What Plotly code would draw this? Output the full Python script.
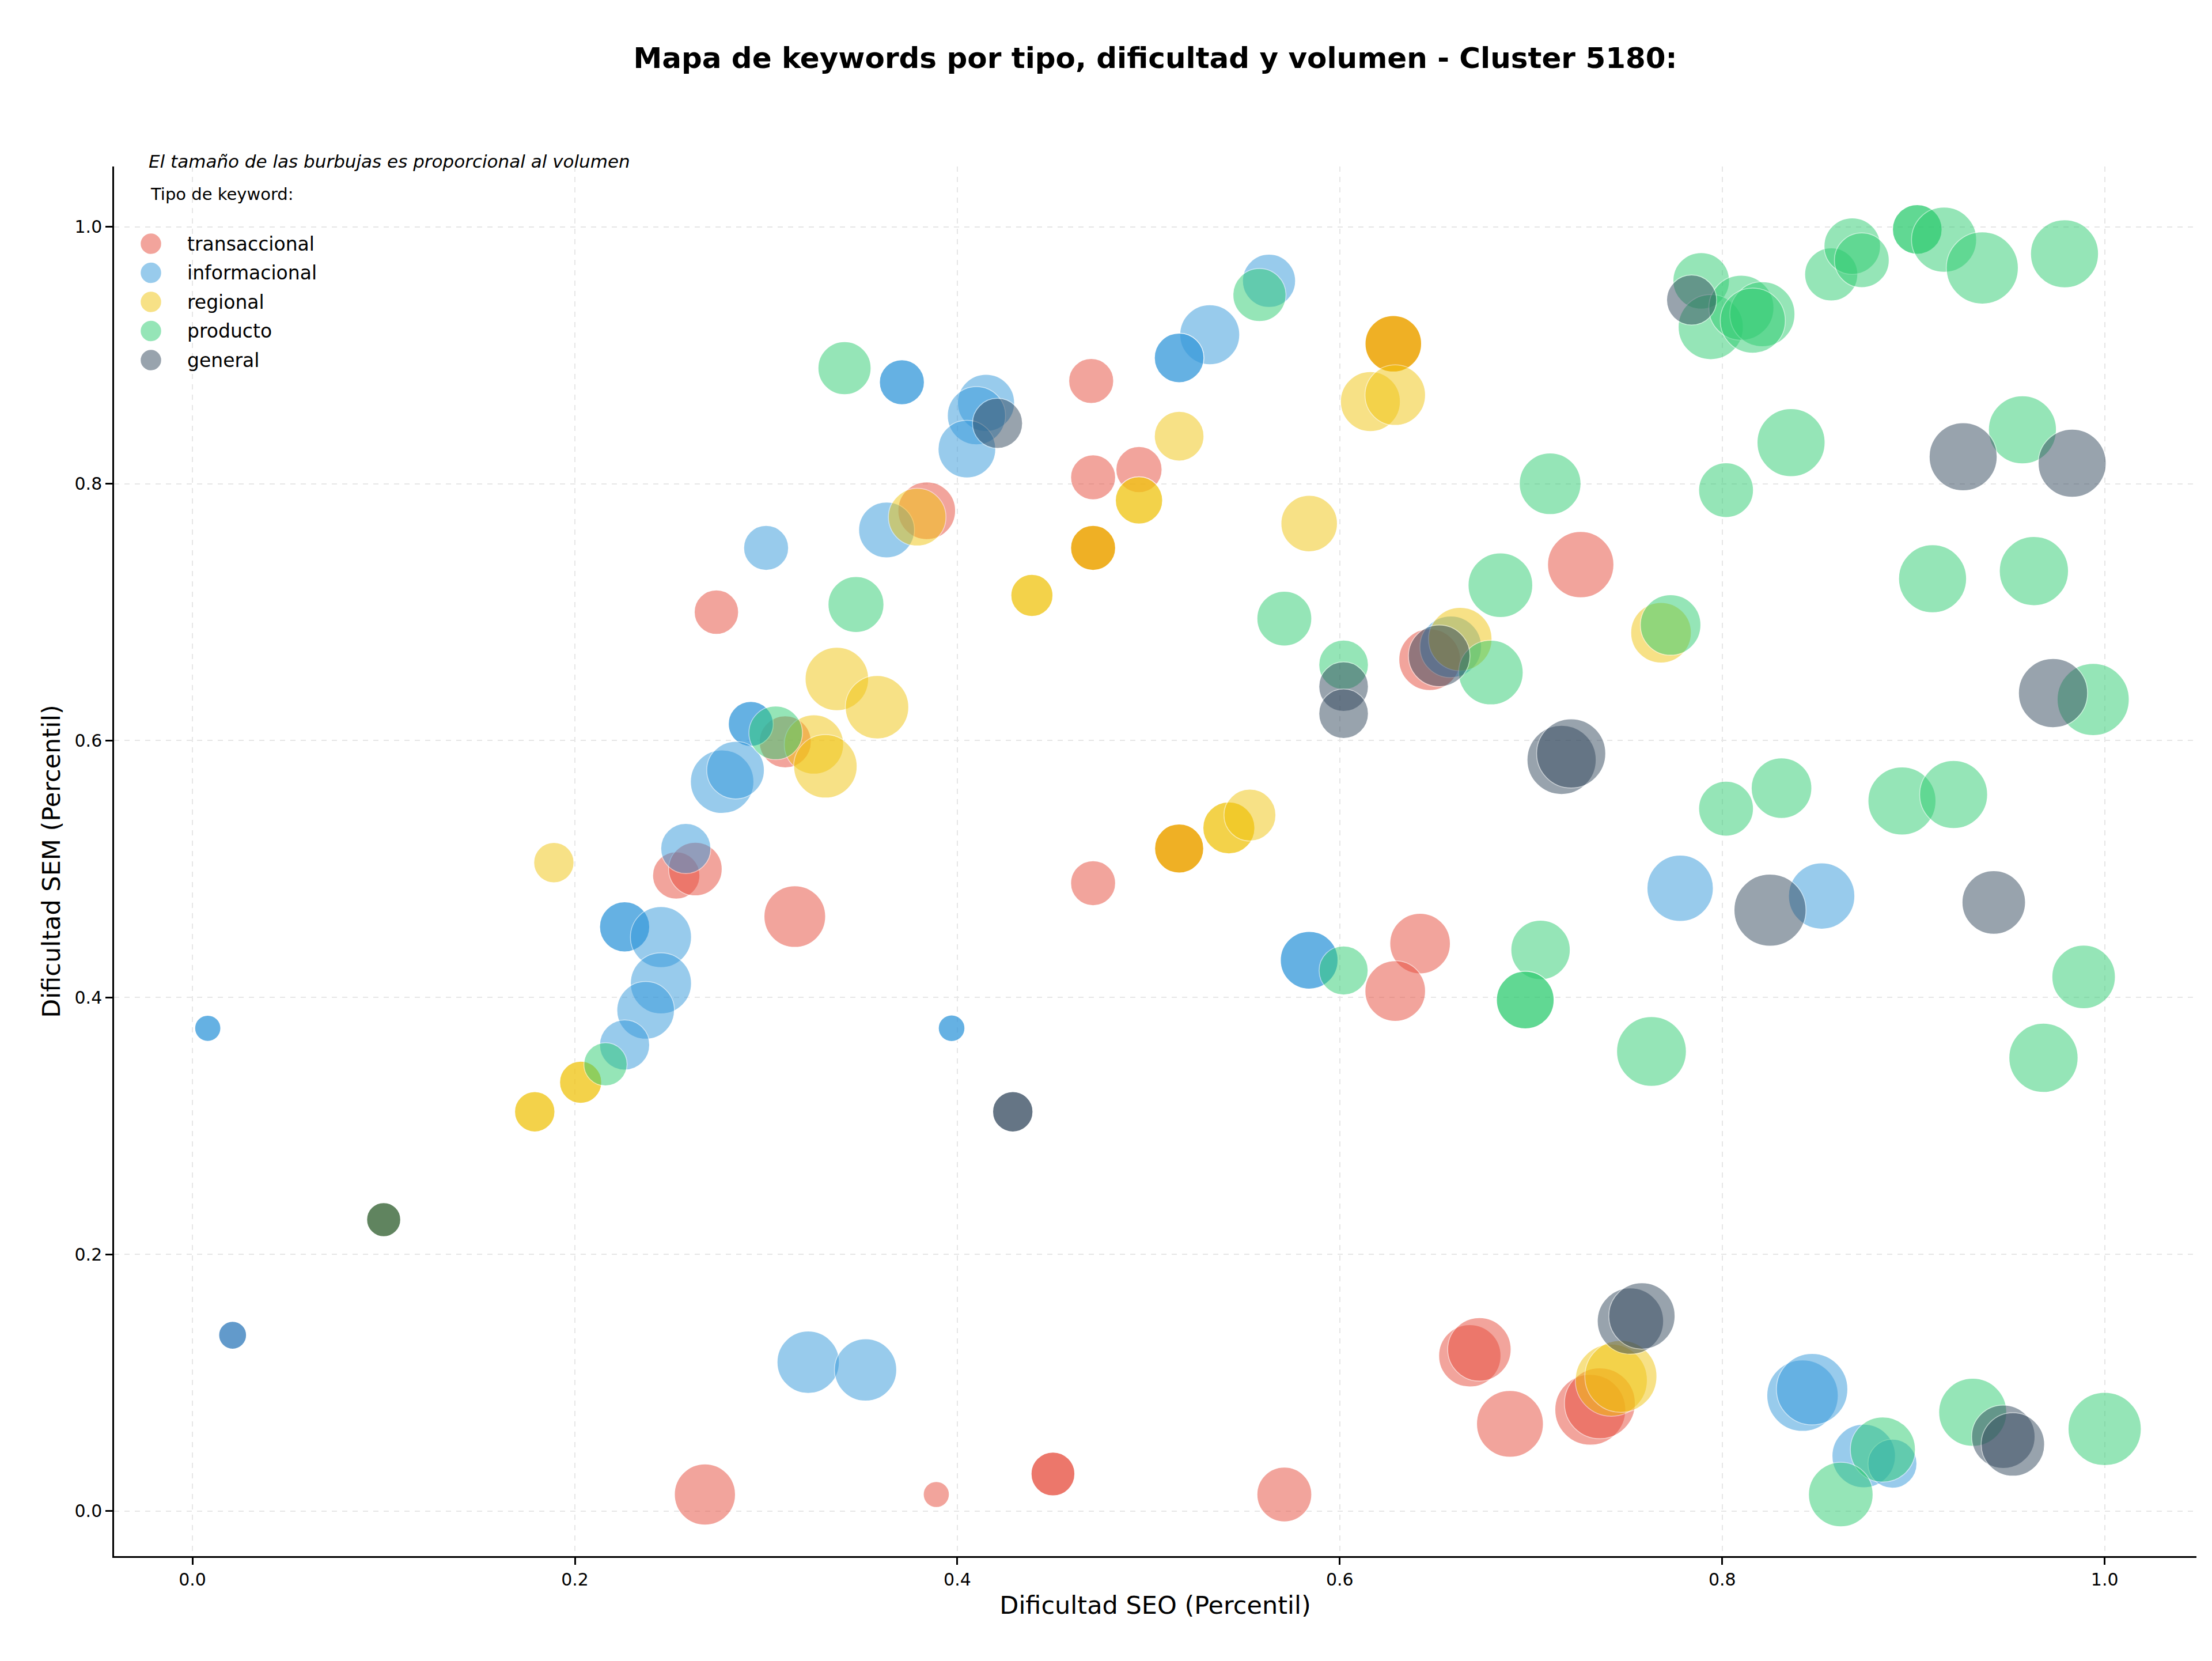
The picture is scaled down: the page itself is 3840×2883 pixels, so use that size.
import plotly.graph_objects as go

# ---------------- data ----------------
categorias = ["transaccional", "informacional", "regional", "producto", "general"]
colores = ["#e74c3c", "#3498db", "#f1c40f", "#2ecc71", "#34495e"]

trans_x = [0.470, 0.471, 0.495, 0.384, 0.274, 0.310, 0.253, 0.263, 0.315, 0.471,
           0.647, 0.726, 0.642, 0.629, 0.268, 0.389, 0.450, 0.450, 0.571, 0.668,
           0.673, 0.689, 0.731, 0.736, 0.471, 0.628, 0.516, 0.021, 0.100,
           0.471, 0.628, 0.516]
trans_y = [0.880, 0.805, 0.811, 0.779, 0.700, 0.599, 0.495, 0.500, 0.463, 0.489,
           0.663, 0.737, 0.442, 0.405, 0.013, 0.013, 0.029, 0.029, 0.013, 0.121,
           0.126, 0.068, 0.079, 0.084, 0.750, 0.909, 0.516, 0.137, 0.227,
           0.750, 0.909, 0.516]
trans_vol = [1520, 1520, 1600, 2500, 1480, 2030, 1680, 2160, 2860, 1520,
             2860, 3310, 2760, 2760, 2810, 510, 1440, 1440, 2260, 2920,
             3030, 3360, 3780, 3780, 1520, 2400, 1810, 580, 870,
             1520, 2400, 1810]

info_x = [0.371, 0.371, 0.415, 0.410, 0.405, 0.532, 0.516, 0.516, 0.563, 0.300,
          0.363, 0.292, 0.292, 0.277, 0.284, 0.258, 0.226, 0.226, 0.245, 0.245,
          0.237, 0.226, 0.008, 0.008, 0.021, 0.021, 0.397, 0.397, 0.322, 0.352,
          0.584, 0.584, 0.658, 0.778, 0.852, 0.842, 0.847, 0.874, 0.889]
info_y = [0.879, 0.879, 0.863, 0.853, 0.827, 0.916, 0.898, 0.898, 0.958, 0.750,
          0.764, 0.613, 0.613, 0.568, 0.577, 0.516, 0.455, 0.455, 0.447, 0.411,
          0.390, 0.363, 0.376, 0.376, 0.137, 0.137, 0.376, 0.376, 0.116, 0.110,
          0.429, 0.429, 0.673, 0.485, 0.479, 0.090, 0.095, 0.043, 0.037]
info_vol = [1520, 1520, 2450, 2550, 2500, 2700, 1850, 1850, 2120, 1520,
            2350, 1520, 1520, 3030, 2500, 1890, 1890, 1890, 2810, 2810,
            2500, 1890, 510, 510, 580, 580, 530, 530, 2920, 2920,
            2500, 2500, 2860, 3310, 3310, 3840, 3840, 3030, 1810]

reg_x = [0.495, 0.495, 0.471, 0.471, 0.439, 0.439, 0.516, 0.628, 0.628, 0.616,
         0.629, 0.584, 0.379, 0.337, 0.358, 0.325, 0.331, 0.189, 0.203, 0.203,
         0.179, 0.179, 0.100, 0.516, 0.516, 0.542, 0.542, 0.553, 0.663, 0.768,
         0.742, 0.747]
reg_y = [0.787, 0.787, 0.750, 0.750, 0.713, 0.713, 0.837, 0.909, 0.909, 0.864,
         0.869, 0.769, 0.774, 0.648, 0.626, 0.597, 0.580, 0.505, 0.334, 0.334,
         0.311, 0.311, 0.227, 0.516, 0.516, 0.532, 0.532, 0.542, 0.679, 0.684,
         0.102, 0.105]
reg_vol = [1680, 1680, 1520, 1520, 1330, 1330, 1850, 2400, 2400, 2700,
           2760, 2400, 2500, 3030, 3030, 2650, 3030, 1220, 1330, 1330,
           1220, 1220, 870, 1810, 1810, 2030, 2030, 2030, 3030, 2760,
           3910, 3910]

prod_x = [0.341, 0.558, 0.347, 0.305, 0.216, 0.100, 0.571, 0.602, 0.602, 0.684,
          0.679, 0.710, 0.705, 0.697, 0.697, 0.763, 0.773, 0.789, 0.794, 0.810,
          0.821, 0.816, 0.857, 0.868, 0.873, 0.902, 0.902, 0.916, 0.936, 0.979,
          0.836, 0.802, 0.957, 0.910, 0.963, 0.994, 0.802, 0.831, 0.894, 0.921,
          0.989, 0.968, 0.884, 0.862, 0.931, 1.000]
prod_y = [0.890, 0.947, 0.706, 0.606, 0.348, 0.227, 0.695, 0.659, 0.421, 0.721,
          0.653, 0.800, 0.437, 0.398, 0.398, 0.358, 0.690, 0.958, 0.922, 0.937,
          0.932, 0.927, 0.963, 0.985, 0.974, 0.998, 0.998, 0.990, 0.968, 0.979,
          0.832, 0.795, 0.842, 0.726, 0.732, 0.632, 0.547, 0.563, 0.553, 0.558,
          0.416, 0.353, 0.048, 0.013, 0.077, 0.064]
prod_vol = [2120, 2120, 2350, 2160, 1410, 870, 2260, 1850, 1810, 3140,
            3140, 2860, 2650, 2500, 2500, 3660, 2760, 2400, 3190, 3190,
            3190, 3190, 2120, 2400, 2260, 1850, 1850, 3190, 3910, 3480,
            3480, 2260, 3480, 3480, 3600, 3910, 2260, 2760, 3480, 3480,
            3030, 3600, 3190, 3140, 3480, 4030]

gen_x = [0.421, 0.602, 0.602, 0.652, 0.716, 0.721, 0.784, 0.926, 0.983, 0.973,
         0.825, 0.942, 0.429, 0.429, 0.752, 0.758, 0.947, 0.952, 0.100]
gen_y = [0.847, 0.642, 0.621, 0.666, 0.585, 0.590, 0.943, 0.821, 0.816, 0.637,
         0.468, 0.474, 0.311, 0.311, 0.148, 0.152, 0.058, 0.052, 0.227]
gen_vol = [1890, 1850, 1850, 2860, 3600, 3600, 1890, 3480, 3480, 3600,
           3910, 3030, 1220, 1220, 3310, 3310, 3030, 3030, 870]

xticks = [0.0, 0.2, 0.4, 0.6, 0.8, 1.0]
yticks = [0.0, 0.2, 0.4, 0.6, 0.8, 1.0]

titulo = "Mapa de keywords por tipo, dificultad y volumen - Cluster 5180:"
nota = "El tamaño de las burbujas es proporcional al volumen"
leyenda_titulo = "Tipo de keyword:"
x_label = "Dificultad SEO (Percentil)"
y_label = "Dificultad SEM (Percentil)"

# ---------------- layout constants ----------------
W, H = 3840, 2883
ML, MR, MT, MB = 198, 27, 289, 182
FONT = "DejaVu Sans"
PW, PH = W - ML - MR, H - MT - MB


def pxx(px):
    return (px - ML) / PW


def pxy(py):
    return (H - MB - py) / PH


series = [
    (trans_x, trans_y, trans_vol),
    (info_x, info_y, info_vol),
    (reg_x, reg_y, reg_vol),
    (prod_x, prod_y, prod_vol),
    (gen_x, gen_y, gen_vol),
]

fig = go.Figure()
for name, col, (xs, ys, vs) in zip(categorias, colores, series):
    fig.add_trace(go.Scatter(
        x=xs, y=ys, mode="markers", name=name, showlegend=False,
        marker=dict(size=vs, sizemode="area", sizeref=0.5, color=col,
                    opacity=0.5, line=dict(color="white", width=1.5)),
        hoverinfo="skip",
    ))

# legend markers drawn on a pixel-based overlay axis
leg_x0, leg_y0, leg_dy = 262, 423, 50.5
fig.add_trace(go.Scatter(
    x=[leg_x0] * len(categorias),
    y=[leg_y0 + i * leg_dy for i in range(len(categorias))],
    xaxis="x2", yaxis="y2", mode="markers", showlegend=False,
    marker=dict(size=37, color=colores, opacity=0.5,
                line=dict(color="white", width=1.5)),
    hoverinfo="skip",
))

annotations = [
    dict(text="<i>" + nota + "</i>", x=pxx(256), y=pxy(280), xref="paper", yref="paper",
         xanchor="left", yanchor="middle", showarrow=False,
         font=dict(family=FONT, size=31, color="black")),
    dict(text=leyenda_titulo, x=pxx(259), y=pxy(337), xref="paper", yref="paper",
         xanchor="left", yanchor="middle", showarrow=False,
         font=dict(family=FONT, size=29, color="black")),
]
for i, name in enumerate(categorias):
    annotations.append(dict(
        text=name, x=pxx(323), y=pxy(leg_y0 + i * leg_dy), xref="paper", yref="paper",
        xanchor="left", yanchor="middle", showarrow=False,
        font=dict(family=FONT, size=33, color="black")))

axis_common = dict(
    showgrid=True, gridcolor="#e6e6e6", gridwidth=2, griddash="dash",
    zeroline=False, showline=True, linecolor="black", linewidth=2.5,
    ticks="outside", ticklen=12, tickwidth=2.5, tickcolor="black",
    tickfont=dict(family=FONT, size=30, color="black"), tickformat=".1f",
    mirror=False,
)

fig.update_layout(
    width=W, height=H,
    margin=dict(l=ML, r=MR, t=MT, b=MB, autoexpand=False),
    paper_bgcolor="white", plot_bgcolor="white",
    showlegend=False,
    font=dict(family=FONT, color="black"),
    title=dict(text="<b>" + titulo + "</b>", x=0.5, xref="paper", xanchor="center",
               y=1 - 100 / H, yref="container", yanchor="middle",
               font=dict(family=FONT, size=50, color="black")),
    xaxis=dict(range=[-0.041, 1.048], tickvals=xticks,
               title=dict(text=x_label, standoff=14,
                          font=dict(family=FONT, size=43, color="black")),
               **axis_common),
    yaxis=dict(range=[-0.035, 1.047], tickvals=yticks,
               title=dict(text=y_label, standoff=12,
                          font=dict(family=FONT, size=43, color="black")),
               **axis_common),
    xaxis2=dict(overlaying="x", range=[ML, W - MR], visible=False, anchor="y2"),
    yaxis2=dict(overlaying="y", range=[H - MB, MT], visible=False, anchor="x2"),
    annotations=annotations,
)

fig.write_html("out.html")
